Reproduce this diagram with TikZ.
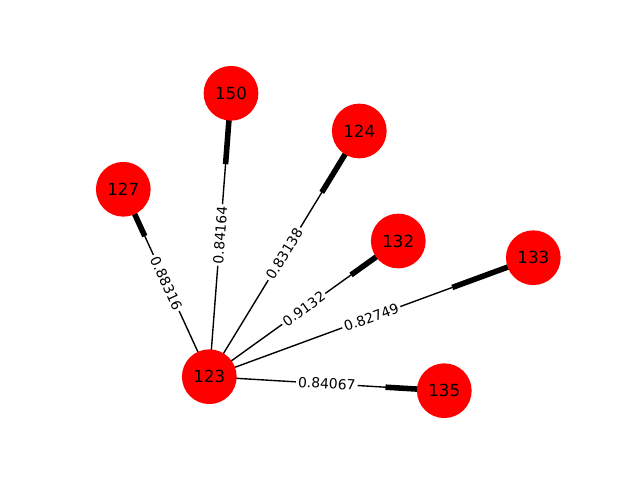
\documentclass[tikz,border=0pt]{standalone}
\usepackage{fontspec}
\setmainfont{DejaVu Sans}
\usetikzlibrary{calc}
\begin{document}
\begin{tikzpicture}[x=0.72pt,y=0.72pt,
  vtx/.style={circle,fill=red,minimum size=39.4pt,inner sep=0pt,font=\fontsize{12}{14}\selectfont},
  thinedge/.style={line width=1pt,black},
  thickedge/.style={line width=4pt,black},
  wlabel/.style={fill=white,inner sep=1.5pt,font=\fontsize{10}{12}\selectfont,sloped,pos=0.5}]
\useasboundingbox (0,0) rectangle (640,480);
\coordinate (p123) at (209.3,103.3);
\coordinate (p150) at (231,386.7);
\coordinate (p124) at (359.3,349);
\coordinate (p127) at (123.3,290.7);
\coordinate (p132) at (398.3,239);
\coordinate (p133) at (533.3,222.3);
\coordinate (p135) at (444.3,89.3);
\foreach \t/\w in {150/0.84164,124/0.83138,127/0.88316,132/0.9132,133/0.82749,135/0.84067}{
  \draw[thinedge] (p123) -- node[wlabel]{\w} (p\t);
  \draw[thickedge] ($(p123)!0.75!(p\t)$) -- (p\t);
}
\node[vtx] (n123) at (p123) {123};
\node[vtx] (n150) at (p150) {150};
\node[vtx] (n124) at (p124) {124};
\node[vtx] (n127) at (p127) {127};
\node[vtx] (n132) at (p132) {132};
\node[vtx] (n133) at (p133) {133};
\node[vtx] (n135) at (p135) {135};
\end{tikzpicture}
\end{document}
